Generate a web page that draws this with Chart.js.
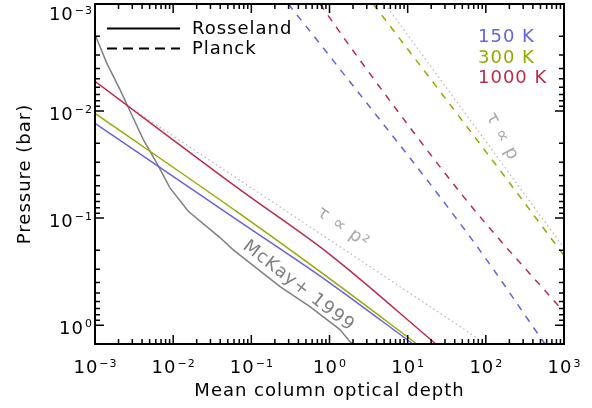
<!DOCTYPE html>
<html>
<head>
<meta charset="utf-8">
<script src="https://cdn.jsdelivr.net/npm/chart.js@4"></script>
<style>
  body { margin: 0; background: #fff; }
</style>
</head>
<body>
<canvas id="myChart" width="592" height="408"></canvas>
<script>
'use strict';

// Rosseland mean (solid)
let tauRoss150 = [0.001, 0.0716, 1.014, 11.7];
let pRoss150 = [0.01303, 0.1085, 0.404, 1.5];
let tauRoss300 = [0.001, 0.0716, 1.014, 13.15];
let pRoss300 = [0.01052, 0.0914, 0.370, 1.5];
let tauRoss1000 = [0.001, 0.0716, 1.014, 23.0];
let pRoss1000 = [0.00527, 0.0542, 0.219, 1.5];

// Planck mean (dashed)
let tauPl150 = [0.297, 1.01, 69.2, 571];
let pPl150 = [0.001, 0.00308, 0.165, 1.5];
let tauPl300 = [3.63, 194, 1000];
let pPl300 = [0.001, 0.0453, 0.224];
let tauPl1000 = [0.755, 2.33, 62.7, 980];
let pPl1000 = [0.001, 0.00318, 0.0748, 0.743];

// McKay+ 1999
let tauMcKay = [0.001, 0.00141, 0.00209, 0.00281, 0.00415, 0.00615, 0.0091, 0.0156, 0.0397, 0.0582, 0.233, 0.562, 1.36, 1.83, 2.0];
let pMcKay = [0.00193, 0.00355, 0.0063, 0.01005, 0.0185, 0.0305, 0.0522, 0.0863, 0.152, 0.197, 0.437, 0.671, 1.10, 1.43, 1.49];

// reference slopes (dotted)
let tauLinP = [5.13, 1000];
let pLinP = [0.001, 0.19];
let tauSqP = [0.0031, 44, 180];
let pSqP = [0.0097, 1.0, 2.0];

let xTicks = [1e-3, 1e-2, 1e-1, 1, 10, 100, 1000];
let xTickExp = ['\u22123', '\u22122', '\u22121', '0', '1', '2', '3'];
let yTicks = [1e-3, 1e-2, 1e-1, 1];
let yTickExp = ['\u22123', '\u22122', '\u22121', '0'];

let tempLabels = ['150 K', '300 K', '1000 K'];
let tempColors = ['#6464dc', '#96aa00', '#bb2c4c'];

let fontName = '"DejaVu Sans"';

function pts(xs, ys) {
    return xs.map(function (v, i) { return { x: v, y: ys[i] }; });
}

function line(xs, ys, color, dash, width, smooth) {
    return {
        data: pts(xs, ys),
        borderColor: color,
        borderWidth: width || 1.5,
        borderDash: dash || [],
        pointRadius: 0,
        showLine: true,
        fill: false,
        cubicInterpolationMode: smooth ? 'monotone' : 'default'
    };
}

let framePlugin = {
    id: 'frame',
    beforeDraw(chart) {
        chart.ctx.letterSpacing = '1px';
    },
    afterDraw(chart) {
        let ctx = chart.ctx;
        let a = chart.chartArea;
        let x = chart.scales.x;
        let y = chart.scales.y;
        ctx.save();
        ctx.letterSpacing = '1px';

        // box
        ctx.strokeStyle = '#000';
        ctx.lineWidth = 2;
        ctx.strokeRect(a.left, a.top, a.right - a.left, a.bottom - a.top);

        // inward ticks, all four sides
        ctx.lineWidth = 1.5;
        ctx.beginPath();
        for (let i = 0; i < xTicks.length; i++) {
            for (let m = 1; m < 10; m++) {
                let v = xTicks[i] * m;
                if (v > x.max) break;
                let px = x.getPixelForValue(v);
                let len = m === 1 ? 9 : 5;
                ctx.moveTo(px, a.bottom); ctx.lineTo(px, a.bottom - len);
                ctx.moveTo(px, a.top); ctx.lineTo(px, a.top + len);
            }
        }
        for (let i = 0; i < yTicks.length; i++) {
            for (let m = 1; m < 10; m++) {
                let v = yTicks[i] * m;
                if (v > y.max) break;
                let py = y.getPixelForValue(v);
                let len = m === 1 ? 9 : 5;
                ctx.moveTo(a.left, py); ctx.lineTo(a.left + len, py);
                ctx.moveTo(a.right, py); ctx.lineTo(a.right - len, py);
            }
        }
        ctx.stroke();

        // tick labels
        ctx.fillStyle = '#000';
        ctx.textBaseline = 'alphabetic';
        ctx.textAlign = 'left';
        let big = '18px ' + fontName;
        let small = '11px ' + fontName;
        for (let i = 0; i < xTicks.length; i++) {
            let px = x.getPixelForValue(xTicks[i]);
            ctx.font = big;
            let w1 = ctx.measureText('10').width;
            ctx.font = small;
            let w2 = ctx.measureText(xTickExp[i]).width;
            let x0 = px - (w1 + w2) / 2;
            ctx.font = big;
            ctx.fillText('10', x0, 373);
            ctx.font = small;
            ctx.fillText(xTickExp[i], x0 + w1 + 1, 367);
        }
        for (let i = 0; i < yTicks.length; i++) {
            let py = y.getPixelForValue(yTicks[i]);
            let base = Math.max(py + 8.5, 20);
            ctx.font = big;
            let w1 = ctx.measureText('10').width;
            ctx.font = small;
            let w2 = ctx.measureText(yTickExp[i]).width;
            let x0 = 92 - w1 - w2;
            ctx.font = big;
            ctx.fillText('10', x0, base);
            ctx.font = small;
            ctx.fillText(yTickExp[i], x0 + w1 + 1, base - 6.5);
        }

        // legend
        ctx.strokeStyle = '#000';
        ctx.lineWidth = 1.8;
        ctx.beginPath();
        ctx.moveTo(107, 28.5); ctx.lineTo(180, 28.5);
        ctx.stroke();
        ctx.setLineDash([10, 6]);
        ctx.beginPath();
        ctx.moveTo(107, 48.5); ctx.lineTo(180, 48.5);
        ctx.stroke();
        ctx.setLineDash([]);
        ctx.font = big;
        ctx.fillText('Rosseland', 192, 34);
        ctx.fillText('Planck', 192, 53.5);

        // temperature labels
        for (let i = 0; i < tempLabels.length; i++) {
            ctx.fillStyle = tempColors[i];
            ctx.fillText(tempLabels[i], 478, 42 + i * 20.7);
        }

        // rotated notes
        function note(text, tau, p, angle, color) {
            ctx.save();
            ctx.translate(x.getPixelForValue(tau), y.getPixelForValue(p));
            ctx.rotate(angle * Math.PI / 180);
            ctx.fillStyle = color;
            ctx.textAlign = 'center';
            ctx.textBaseline = 'middle';
            ctx.font = big;
            ctx.fillText(text, 0, 0);
            ctx.restore();
        }
        note('\u03c4 \u221d p\u00b2', 1.49, 0.123, 35, '#aaaaaa');
        note('\u03c4 \u221d p', 161, 0.0173, 62, '#aaaaaa');
        note('McKay+ 1999', 0.401, 0.432, 38, '#808080');

        ctx.restore();
    }
};

let ctx = document.getElementById('myChart').getContext('2d');

let chart = new Chart(ctx, {
    type: 'scatter',
    data: {
        datasets: [
            line(tauRoss150, pRoss150, tempColors[0], null, 1.5, true),
            line(tauRoss300, pRoss300, tempColors[1], null, 1.5, true),
            line(tauRoss1000, pRoss1000, tempColors[2], null, 1.5, true),
            line(tauPl150, pPl150, tempColors[0], [7, 7], 1.5, true),
            line(tauPl300, pPl300, tempColors[1], [7, 7], 1.5, true),
            line(tauPl1000, pPl1000, tempColors[2], [7, 7], 1.5, true),
            line(tauMcKay, pMcKay, '#808080'),
            line(tauLinP, pLinP, '#b4b4b4', [1.5, 3], 1.2),
            line(tauSqP, pSqP, '#b4b4b4', [1.5, 3], 1.2)
        ]
    },
    options: {
        responsive: false,
        animation: false,
        layout: { padding: { top: 4, right: 28, left: 0, bottom: 0 } },
        plugins: {
            legend: { display: false },
            tooltip: { enabled: false }
        },
        scales: {
            x: {
                type: 'logarithmic',
                min: 1e-3,
                max: 1e3,
                grid: { display: false },
                border: { display: false },
                ticks: { display: false },
                title: {
                    display: true,
                    text: 'Mean column optical depth',
                    color: '#000',
                    font: { family: 'DejaVu Sans', size: 18 },
                    padding: { top: 0, bottom: 6 }
                },
                afterFit(scale) { scale.height = 64; }
            },
            y: {
                type: 'logarithmic',
                reverse: true,
                min: 1e-3,
                max: 1.5,
                grid: { display: false },
                border: { display: false },
                ticks: { display: false },
                title: {
                    display: true,
                    text: 'Pressure (bar)',
                    color: '#000',
                    font: { family: 'DejaVu Sans', size: 18 },
                    padding: { top: 15, bottom: 0 }
                },
                afterFit(scale) { scale.width = 95; }
            }
        }
    },
    plugins: [framePlugin]
});
</script>
</body>
</html>
